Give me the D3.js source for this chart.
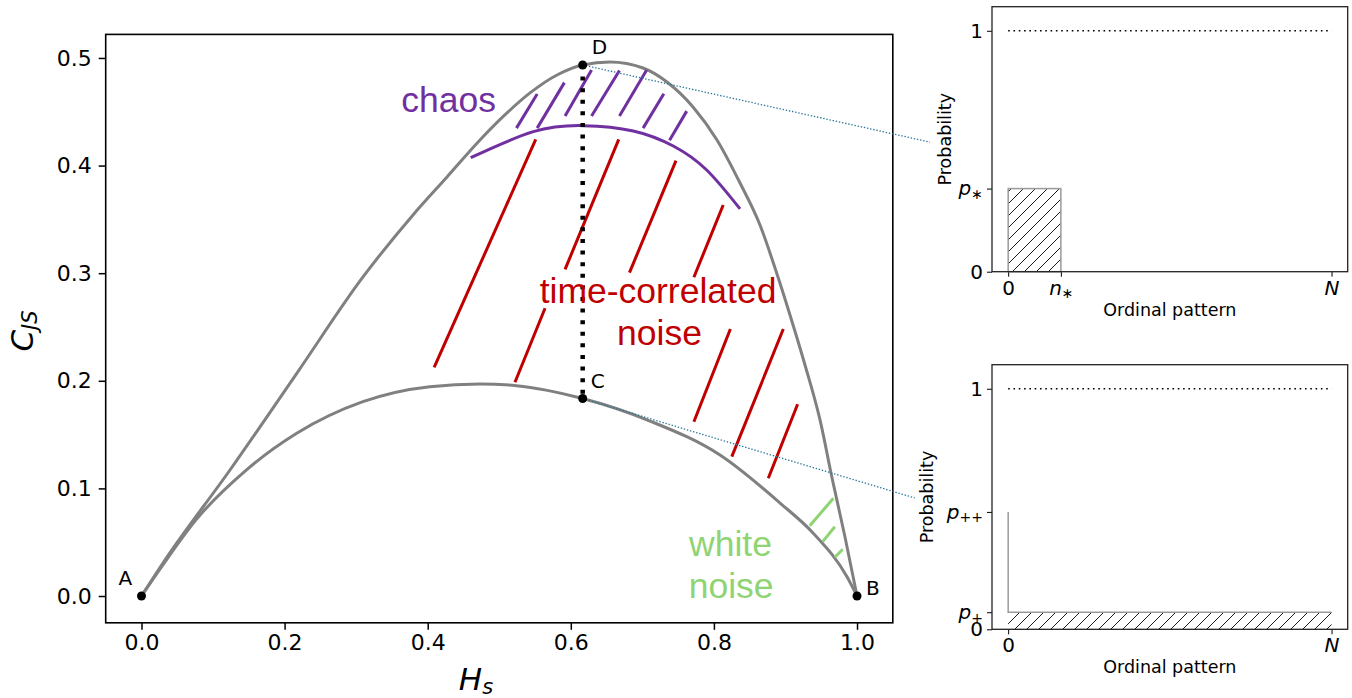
<!DOCTYPE html>
<html>
<head>
<meta charset="utf-8">
<script src="https://cdn.jsdelivr.net/npm/d3@7/dist/d3.min.js"></script>
<style>
body { margin: 0; background: #fff; }
</style>
</head>
<body>
<div id="chart"></div>
<script>
// ---- data ----
var maxCurve = [[0,0],[0.03,0.0307],[0.1237,0.1171],[0.2173,0.2072],[0.3096,0.2965],[0.3795,0.3541],
  [0.427,0.3894],[0.4731,0.4238],[0.5108,0.4489],[0.543,0.4675],[0.5807,0.4842],[0.6166,0.4935],
  [0.6548,0.4963],[0.7009,0.4907],[0.7344,0.4777],[0.7708,0.4545],[0.8043,0.4238],[0.8365,0.3838],
  [0.8644,0.3448],[0.8854,0.3048],[0.9063,0.2612],[0.9273,0.2147],[0.9483,0.1636],[0.9651,0.1097],
  [0.9832,0.0548],[1,0]];
var minCurve = [[0,0],[0.03,0.029],[0.0765,0.071],[0.1464,0.117],[0.2164,0.151],[0.3095,0.1806],
  [0.403,0.1945],[0.473,0.197],[0.524,0.1955],[0.6166,0.1835],[0.7107,0.1626],[0.8085,0.131],
  [0.8924,0.0864],[0.9385,0.0586],[0.986,0.0179],[1,0]];
var cornerNames = ["A", "B", "C", "D"];
var cornerPoints = [[0,0],[1,0],[0.6166,0.1835],[0.6166,0.4935]];
var chaosArc = [[0.4601,0.4073],[0.5476,0.4315],[0.6175,0.4371],[0.6873,0.4322],[0.7432,0.4182],[0.7899,0.3959],[0.8365,0.3597]];
var chaosHatch = [
  [[0.524,0.4348],[0.553,0.4665]], [[0.553,0.4348],[0.591,0.4771]], [[0.592,0.4461],[0.629,0.4888]],
  [[0.629,0.4461],[0.668,0.4884]], [[0.668,0.4461],[0.706,0.4888]], [[0.701,0.4348],[0.730,0.4668]],
  [[0.738,0.4236],[0.762,0.4506]]];
var noiseHatch = [
  [[0.409,0.2125],[0.551,0.4244]], [[0.522,0.1986],[0.564,0.2674]], [[0.592,0.3036],[0.667,0.4244]],
  [[0.682,0.3005],[0.747,0.4046]], [[0.772,0.2962],[0.813,0.3634]], [[0.772,0.1620],[0.823,0.2481]],
  [[0.825,0.1295],[0.897,0.2481]], [[0.876,0.1094],[0.917,0.1782]]];
var whiteHatch = [
  [[0.934,0.0653],[0.967,0.0908]], [[0.952,0.0505],[0.969,0.0644]], [[0.969,0.0360],[0.980,0.0434]]];
var xTicks = [0, 0.2, 0.4, 0.6, 0.8, 1.0];
var yTicks = [0, 0.1, 0.2, 0.3, 0.4, 0.5];

// insets
var nStar = 0.163, pStar = 0.345;
var pPlus = 0.071, pPlusPlus = 0.488;
var topXTicks = [0, nStar, 1], topXLabels = ["0", "n_∗", "N"];
var topYTicks = [0, pStar, 1], topYLabels = ["0", "p_∗", "1"];
var botXTicks = [0, 1], botXLabels = ["0", "N"];
var botYTicks = [0, pPlus, pPlusPlus, 1], botYLabels = ["0", "p_+", "p_++", "1"];
var connectTop = [-0.242, 0.538], connectBot = [-0.289, 0.546];

var W = 1352, H = 698;
var FONT = "'DejaVu Sans', sans-serif", ARIAL = "'Liberation Sans', Arial, sans-serif";

var svg = d3.select("#chart").append("svg")
    .attr("width", W).attr("height", H)
    .style("font-family", FONT);
svg.append("rect").attr("width", W).attr("height", H).attr("fill", "#fff");

// hatch pattern
svg.append("defs").append("pattern")
    .attr("id", "hatch").attr("patternUnits", "userSpaceOnUse")
    .attr("width", 12).attr("height", 12)
  .append("path")
    .attr("d", "M0,12L12,0M-3,3L3,-3M9,15L15,9")
    .attr("stroke", "#000").attr("stroke-width", 0.9);

// ---- main panel ----
var main = {left: 105.7, right: 892.8, top: 34.4, bottom: 622.8};
var x = d3.scaleLinear().domain([-0.05, 1.05]).range([main.left, main.right]);
var y = d3.scaleLinear().domain([-0.0249, 0.5219]).range([main.bottom, main.top]);

var gx = svg.append("g")
    .attr("transform", "translate(0," + main.bottom + ")")
    .call(d3.axisBottom(x).tickValues(xTicks).tickFormat(d3.format(".1f")).tickSize(7).tickPadding(5));
var gy = svg.append("g")
    .attr("transform", "translate(" + main.left + ",0)")
    .call(d3.axisLeft(y).tickValues(yTicks).tickFormat(d3.format(".1f")).tickSize(7).tickPadding(7));
[gx, gy].forEach(function(g) {
  g.select(".domain").remove();
  g.selectAll(".tick line").attr("stroke-width", 1.5);
  g.selectAll(".tick text").style("font-size", "22px").style("font-family", FONT).attr("fill", "#000");
});

var line = d3.line().x(function(d) { return x(d[0]); }).y(function(d) { return y(d[1]); });
var smooth = d3.line().x(function(d) { return x(d[0]); }).y(function(d) { return y(d[1]); })
    .curve(d3.curveMonotoneX);
var arcLine = d3.line().x(function(d) { return x(d[0]); }).y(function(d) { return y(d[1]); })
    .curve(d3.curveNatural);

[maxCurve, minCurve].forEach(function(c) {
  svg.append("path").datum(c).attr("d", smooth)
      .attr("fill", "none").attr("stroke", "#808080").attr("stroke-width", 3);
});

svg.append("path").datum(chaosArc).attr("d", arcLine)
    .attr("fill", "none").attr("stroke", "#7030a0").attr("stroke-width", 3);

function hatchSegs(segs, color) {
  svg.append("g").selectAll("path").data(segs).enter().append("path")
      .attr("d", line).attr("stroke", color).attr("stroke-width", 3).attr("fill", "none");
}
hatchSegs(chaosHatch, "#7030a0");
hatchSegs(noiseHatch, "#c00000");
hatchSegs(whiteHatch, "#8fd473");

// dotted D-C line
svg.append("path").datum([cornerPoints[3], cornerPoints[2]]).attr("d", line)
    .attr("stroke", "#000").attr("stroke-width", 4.5).attr("stroke-dasharray", "4,7.6").attr("fill", "none");

// annotations
function note(txt, h, c, color) {
  svg.append("text").attr("x", x(h)).attr("y", y(c))
      .attr("text-anchor", "middle").attr("fill", color)
      .style("font-family", ARIAL).style("font-size", "35.5px").text(txt);
}
note("chaos", 0.4294, 0.4501, "#7030a0");
note("time-correlated", 0.7219, 0.2726, "#c00000");
note("noise", 0.724, 0.2333, "#c00000");
note("white", 0.8232, 0.0372, "#8fd473");
note("noise", 0.824, -0.0023, "#8fd473");

// frame
svg.append("rect").attr("x", main.left).attr("y", main.top)
    .attr("width", main.right - main.left).attr("height", main.bottom - main.top)
    .attr("fill", "none").attr("stroke", "#000").attr("stroke-width", 1.6);

// axis titles
var yl = svg.append("text").attr("transform", "translate(33,331) rotate(-90)")
    .attr("text-anchor", "middle").style("font-size", "31px").style("font-style", "italic");
yl.append("tspan").text("C");
yl.append("tspan").attr("dy", "0.2em").style("font-size", "21px").text("JS");
var xl = svg.append("text").attr("x", 476).attr("y", 690)
    .attr("text-anchor", "middle").style("font-size", "31px").style("font-style", "italic");
xl.append("tspan").text("H");
xl.append("tspan").attr("dy", "0.2em").style("font-size", "21px").text("s");

// ---- insets ----
function setLabel(sel, labels) {
  sel.each(function(d, i) {
    var t = d3.select(this).text(null), parts = labels[i].split("_");
    t.append("tspan").style("font-style", /[a-zA-Z]/.test(parts[0]) ? "italic" : "normal").text(parts[0]);
    if (parts[1]) t.append("tspan").attr("dy", "0.25em").style("font-size", "14px").text(parts[1]);
  });
}

function inset(box, xt, xlab, yt, ylab, ylabX) {
  var ix = d3.scaleLinear().domain([-0.05, 1.05]).range([box.left, box.right]);
  var iy = d3.scaleLinear().domain([0, 1.1]).range([box.bottom, box.top]);
  var ax = svg.append("g").attr("transform", "translate(0," + box.bottom + ")")
      .call(d3.axisBottom(ix).tickValues(xt).tickSize(5).tickPadding(4));
  var ay = svg.append("g").attr("transform", "translate(" + box.left + ",0)")
      .call(d3.axisLeft(iy).tickValues(yt).tickSize(5).tickPadding(4));
  [ax, ay].forEach(function(g) {
    g.select(".domain").remove();
    g.selectAll(".tick text").style("font-size", "20px").style("font-family", FONT).attr("fill", "#000");
  });
  setLabel(ax.selectAll(".tick text"), xlab);
  setLabel(ay.selectAll(".tick text"), ylab);
  svg.append("text").attr("x", (box.left + box.right) / 2).attr("y", box.bottom + 44)
      .attr("text-anchor", "middle").style("font-size", "17.5px").text("Ordinal pattern");
  svg.append("text").attr("transform", "translate(" + ylabX + "," + (box.top + box.bottom) / 2 + ") rotate(-90)")
      .attr("text-anchor", "middle").style("font-size", "17.5px").text("Probability");
  svg.append("line").attr("x1", ix(0)).attr("x2", ix(1)).attr("y1", iy(1)).attr("y2", iy(1))
      .attr("stroke", "#000").attr("stroke-width", 1.6).attr("stroke-dasharray", "1.6,3.7");
  return {x: ix, y: iy, box: box};
}

var topInset = inset({left: 992, right: 1347.7, top: 6.7, bottom: 271.7},
    topXTicks, topXLabels, topYTicks, topYLabels, 951);
svg.append("rect").attr("x", topInset.x(0)).attr("y", topInset.y(pStar))
    .attr("width", topInset.x(nStar) - topInset.x(0)).attr("height", topInset.y(0) - topInset.y(pStar))
    .attr("fill", "url(#hatch)").attr("stroke", "#9a9a9a").attr("stroke-width", 1.5);

var botInset = inset({left: 992, right: 1347.7, top: 364.7, bottom: 629.3},
    botXTicks, botXLabels, botYTicks, botYLabels, 933);
svg.append("rect").attr("x", botInset.x(0)).attr("y", botInset.y(pPlus))
    .attr("width", botInset.x(1) - botInset.x(0)).attr("height", botInset.y(0) - botInset.y(pPlus))
    .attr("fill", "url(#hatch)");
svg.append("path")
    .attr("d", d3.line()([[botInset.x(0), botInset.y(pPlusPlus)], [botInset.x(0), botInset.y(pPlus)],
        [botInset.x(1), botInset.y(pPlus)]]))
    .attr("fill", "none").attr("stroke", "#9a9a9a").attr("stroke-width", 1.5);

[topInset, botInset].forEach(function(p) {
  svg.append("rect").attr("x", p.box.left).attr("y", p.box.top)
      .attr("width", p.box.right - p.box.left).attr("height", p.box.bottom - p.box.top)
      .attr("fill", "none").attr("stroke", "#222").attr("stroke-width", 1.3);
});

// connectors from D and C to the insets
[[cornerPoints[3], topInset, connectTop], [cornerPoints[2], botInset, connectBot]].forEach(function(c) {
  svg.append("line")
      .attr("x1", x(c[0][0])).attr("y1", y(c[0][1]))
      .attr("x2", c[1].x(c[2][0])).attr("y2", c[1].y(c[2][1]))
      .attr("stroke", "#27759a").attr("stroke-width", 1.3).attr("stroke-dasharray", "1.4,1.8");
});

// corner points and their letters
var offs = [[-23, -11], [9, -1], [8, -10.5], [9, -11]];
cornerPoints.forEach(function(p, i) {
  svg.append("circle").attr("cx", x(p[0])).attr("cy", y(p[1])).attr("r", 4.5).attr("fill", "#000");
  svg.append("text").attr("x", x(p[0]) + offs[i][0]).attr("y", y(p[1]) + offs[i][1])
      .style("font-size", "20px").text(cornerNames[i]);
});
</script>
</body>
</html>
